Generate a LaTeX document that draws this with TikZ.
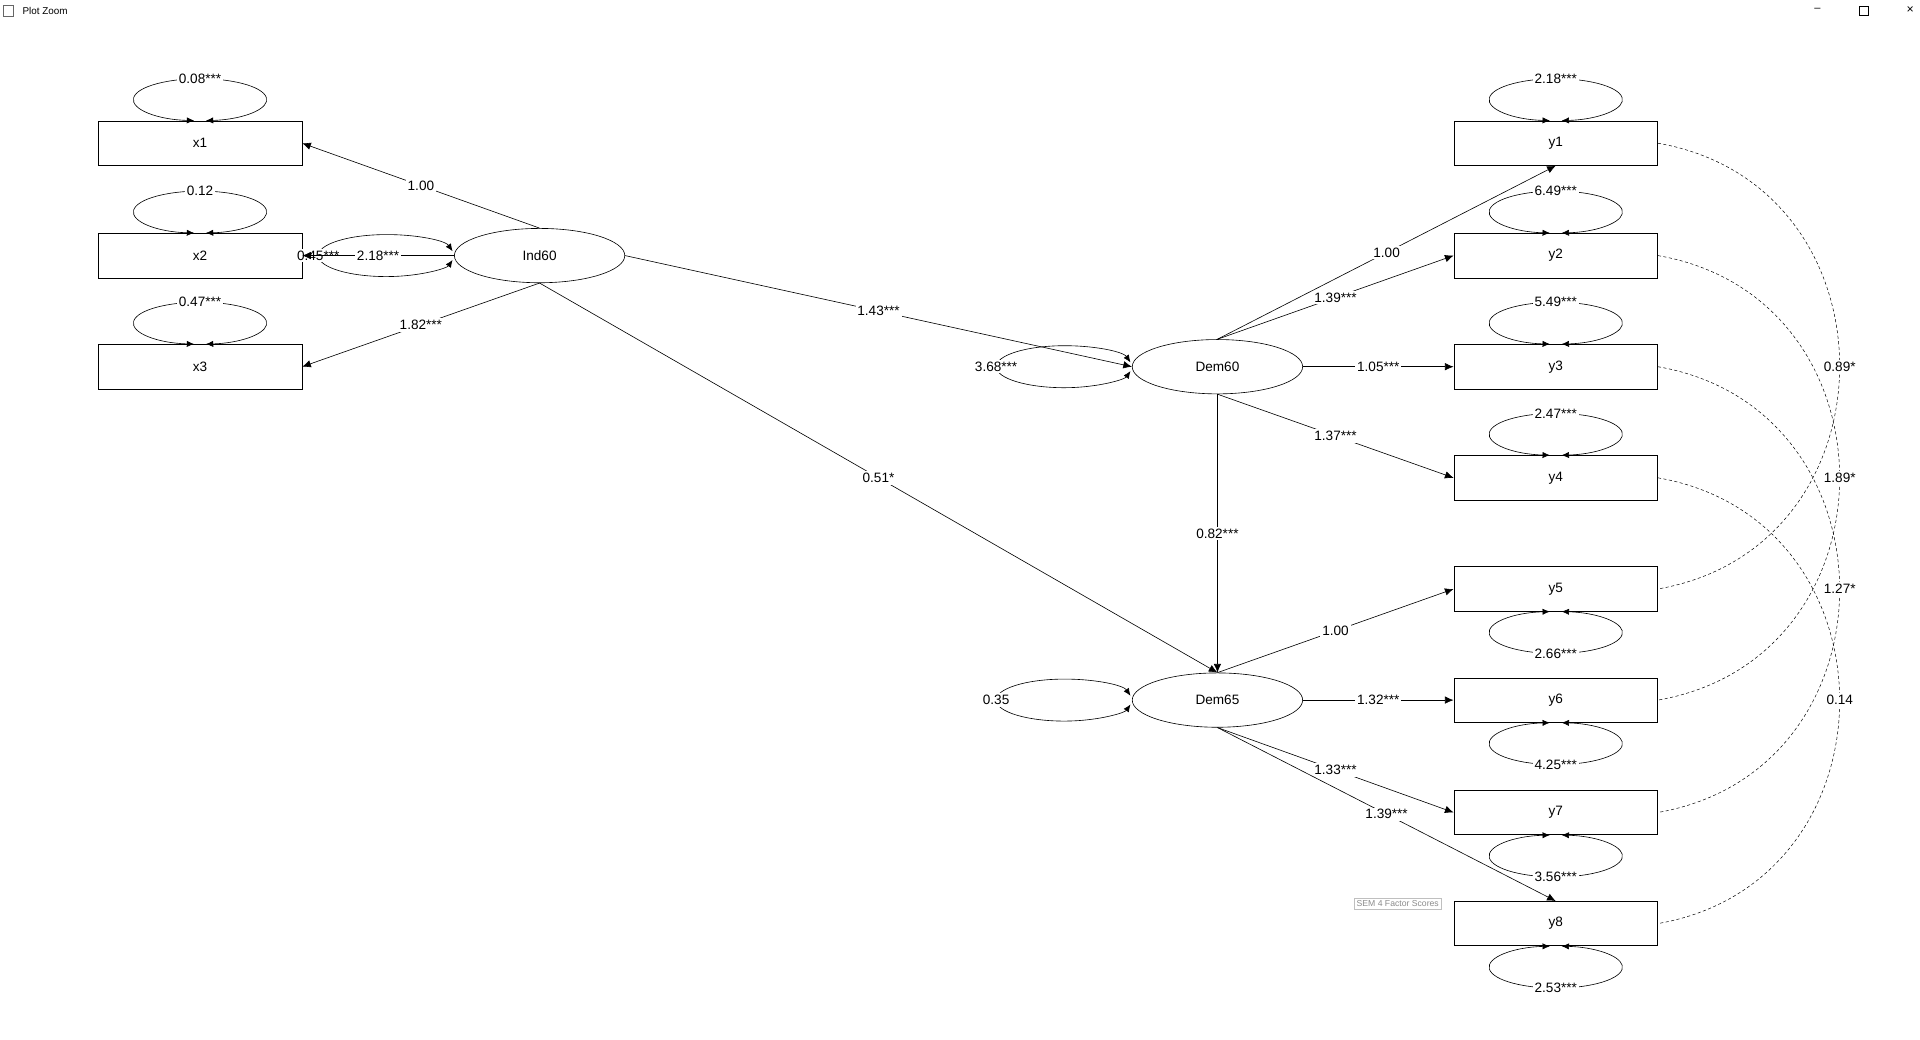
\documentclass[tikz,border=0pt]{standalone}
\usepackage{fontspec}
\setmainfont{Liberation Sans}
\usetikzlibrary{shapes.geometric,arrows.meta,calc}
\tikzset{
  mvar/.style={draw,rectangle,minimum width=165pt,minimum height=36pt,inner sep=0pt},
  lat/.style={draw,ellipse,minimum width=138pt,minimum height=44pt,inner sep=0pt},
  path/.style={-{Latex[length=7pt,width=6pt]}},
  lab/.style={fill=white,inner sep=1.5pt,font=\fontsize{11}{13}\selectfont},
  cov/.style={dashed,dash pattern=on 2.5pt off 2pt,line width=0.4pt},
  tips/.style={{Latex[length=6pt,width=5pt]}-{Latex[length=6pt,width=5pt]}}
}
% variance loops above, below and left of a node
\newcommand{\varup}[2]{%
  \draw[tips] ($(#1.north)+(0,17)$) ++(265:54pt and 17pt) arc[start angle=265,end angle=-85,x radius=54,y radius=17];
  \node[lab] at ($(#1.north)+(0,34)$) {#2};}
\newcommand{\vardown}[2]{%
  \draw[tips] ($(#1.south)+(0,-17)$) ++(95:54pt and 17pt) arc[start angle=95,end angle=445,x radius=54,y radius=17];
  \node[lab] at ($(#1.south)+(0,-34)$) {#2};}
\newcommand{\varleft}[2]{%
  \draw[tips] ($(#1.west)+(-55,0)$) ++(12:55pt and 17pt) arc[start angle=12,end angle=348,x radius=55,y radius=17];
  \node[lab] at ($(#1.west)+(-110,0)$) {#2};}
\begin{document}
\begin{tikzpicture}[x=1pt,y=1pt,line width=0.5pt,font=\fontsize{11}{13}\selectfont]
    \useasboundingbox (0,0) rectangle (1555,-842);

    % window bar
    \node[anchor=west,font=\fontsize{8}{9}\selectfont,inner sep=0pt] (title) at (18,-9) {Plot Zoom};
    \draw[line width=0.4pt,black!60] (3,-4) rectangle (11,-13);
    \node[font=\fontsize{9}{9}\selectfont] (wmin) at (1472,-8) {–};
    \draw[line width=0.4pt] (1506,-5) rectangle (1513,-12);
    \node[font=\fontsize{10}{10}\selectfont] (wclose) at (1547,-8) {×};

    % observed variables
    \node[mvar] (x1) at (162,-116) {x1};
    \node[mvar] (x2) at (162,-207) {x2};
    \node[mvar] (x3) at (162,-297) {x3};
    \foreach \i/\yy in {1/116,2/207,3/297,4/387,5/477,6/567,7/658,8/748}
        \node[mvar] (y\i) at (1260,-\yy) {y\i};

    % latent variables
    \node[lat] (ind60) at (437,-207) {Ind60};
    \node[lat] (dem60) at (986,-297) {Dem60};
    \node[lat] (dem65) at (986,-567) {Dem65};

    % variances
    \varup{x1}{0.08***}
    \varup{x2}{0.12}
    \varup{x3}{0.47***}
    \varup{y1}{2.18***}
    \varup{y2}{6.49***}
    \varup{y3}{5.49***}
    \varup{y4}{2.47***}
    \vardown{y5}{2.66***}
    \vardown{y6}{4.25***}
    \vardown{y7}{3.56***}
    \vardown{y8}{2.53***}
    \varleft{ind60}{0.45***}
    \varleft{dem60}{3.68***}
    \varleft{dem65}{0.35}

    % loadings
    \draw[path] (ind60.north) -- node[lab] {1.00} (x1.east);
    \draw[path] (ind60.west) -- node[lab] {2.18***} (x2.east);
    \draw[path] (ind60.south) -- node[lab] {1.82***} (x3.east);
    \draw[path] (dem60.north) -- node[lab] {1.00} (y1.south);
    \draw[path] (dem60.north) -- node[lab] {1.39***} (y2.west);
    \draw[path] (dem60.east) -- node[lab] {1.05***} (y3.west);
    \draw[path] (dem60.south) -- node[lab] {1.37***} (y4.west);
    \draw[path] (dem65.north) -- node[lab] {1.00} (y5.west);
    \draw[path] (dem65.east) -- node[lab] {1.32***} (y6.west);
    \draw[path] (dem65.south) -- node[lab] {1.33***} (y7.west);
    \draw[path] (dem65.south) -- node[lab] {1.39***} (y8.north);

    % regressions
    \draw[path] (ind60.east) -- node[lab] {1.43***} (dem60.west);
    \draw[path] (ind60.south) -- node[lab] {0.51*} (dem65.north);
    \draw[path] (dem60.south) -- node[lab] {0.82***} (dem65.north);

    % residual covariances
    \draw[cov] (y1.east) .. controls (1539,-150) and (1539,-443) .. (y5.east);
    \draw[cov] (y2.east) .. controls (1539,-241) and (1539,-533) .. (y6.east);
    \draw[cov] (y3.east) .. controls (1539,-331) and (1539,-624) .. (y7.east);
    \draw[cov] (y4.east) .. controls (1539,-421) and (1539,-714) .. (y8.east);
    \node[lab] (c15) at (1490,-297) {0.89*};
    \node[lab] (c26) at (1490,-387) {1.89*};
    \node[lab] (c37) at (1490,-477) {1.27*};
    \node[lab] (c48) at (1490,-567) {0.14};

    % tooltip
    \node[draw=black!25,fill=white,text=black!45,font=\fontsize{7}{8}\selectfont,inner sep=2pt] (tip) at (1132,-732) {SEM 4 Factor Scores};
\end{tikzpicture}
\end{document}
